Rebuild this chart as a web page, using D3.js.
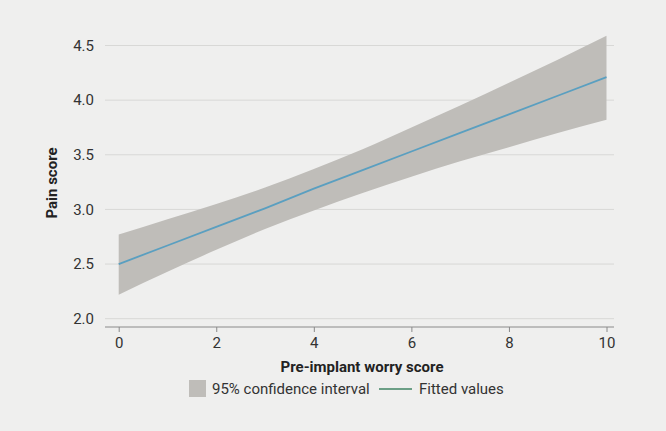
<!DOCTYPE html>
<html><head><meta charset="utf-8">
<script src="https://cdn.jsdelivr.net/npm/d3@7"></script>
<style>
html,body{margin:0;padding:0;background:#efefee;}
svg{display:block;}
</style></head>
<body><svg id="c" width="666" height="431"></svg>
<script>
const xs = [0,1,2,3,4,5,6,7,8,9,10];
const fitted = [2.50,2.67,2.84,3.01,3.19,3.36,3.53,3.70,3.87,4.04,4.21];
const upper = [2.77,2.91,3.05,3.20,3.37,3.55,3.75,3.95,4.16,4.37,4.59];
const lower = [2.22,2.43,2.63,2.82,2.99,3.15,3.30,3.44,3.57,3.70,3.82];
const xTicks = [0,2,4,6,8,10];
const yTicks = [2.0,2.5,3.0,3.5,4.0,4.5];
const xTitle = "Pre-implant worry score";
const yTitle = "Pain score";
const legendLabels = ["95% confidence interval","Fitted values"];

const font = "'Liberation Sans Narrow','Roboto','Liberation Sans',sans-serif";
const svg = d3.select("#c");
svg.append("rect").attr("width",666).attr("height",431).attr("fill","#efefee");

const x = d3.scaleLinear().domain([0,10]).range([118.7,606.5]);
const y = d3.scaleLinear().domain([2.0,4.5]).range([318.7,45.5]);
const gridX0 = 105, gridX1 = 614;

// gridlines
svg.append("g").selectAll("line").data(yTicks).join("line")
  .attr("x1",gridX0).attr("x2",gridX1)
  .attr("y1",d=>y(d)).attr("y2",d=>y(d))
  .attr("stroke","#d8d8d6").attr("stroke-width",1);

// y labels
svg.append("g").selectAll("text").data(yTicks).join("text")
  .attr("x",94).attr("y",d=>y(d)).attr("dy","0.35em")
  .attr("text-anchor","end").attr("font-family",font).attr("font-size",15)
  .attr("fill","#333").text(d=>d3.format(".1f")(d));

// band
const data = xs.map((v,i)=>({x:v,f:fitted[i],u:upper[i],l:lower[i]}));
svg.append("path").datum(data)
  .attr("d",d3.area().x(d=>x(d.x)).y0(d=>y(d.l)).y1(d=>y(d.u)).curve(d3.curveMonotoneX))
  .attr("fill","#bfbdb9");
svg.append("path").datum(data)
  .attr("d",d3.line().x(d=>x(d.x)).y(d=>y(d.f)))
  .attr("fill","none").attr("stroke","#5a9fc0").attr("stroke-width",1.8);

// x axis
const xAxis = d3.axisBottom(x).tickValues(xTicks).tickSize(5).tickPadding(5).tickFormat(d3.format("d"));
const gx = svg.append("g").attr("transform","translate(0,327)").call(xAxis);
gx.select(".domain").attr("d",`M${gridX0},0H${gridX1}`).attr("stroke","#8a8a8a");
gx.selectAll(".tick line").attr("stroke","#8a8a8a");
gx.selectAll(".tick text").attr("font-family",font).attr("font-size",15).attr("fill","#333");

// titles
svg.append("text").attr("x",362).attr("y",372).attr("text-anchor","middle")
  .attr("font-family",font).attr("font-weight","bold").attr("font-size",15).attr("fill","#222").text(xTitle);
svg.append("text").attr("transform","translate(57,183) rotate(-90)").attr("text-anchor","middle")
  .attr("font-family",font).attr("font-weight","bold").attr("font-size",15).attr("fill","#222").text(yTitle);

// legend
const lg = svg.append("g");
lg.append("rect").attr("x",189).attr("y",380).attr("width",17).attr("height",17).attr("fill","#bfbdb9");
lg.append("text").attr("x",212).attr("y",389).attr("dy","0.35em").attr("font-family",font)
  .attr("font-size",15).attr("fill","#333").text(legendLabels[0]);
lg.append("line").attr("x1",379).attr("x2",412).attr("y1",389).attr("y2",389)
  .attr("stroke","#6c9f86").attr("stroke-width",1.8);
lg.append("text").attr("x",419).attr("y",389).attr("dy","0.35em").attr("font-family",font)
  .attr("font-size",15).attr("fill","#333").text(legendLabels[1]);
</script></body></html>
